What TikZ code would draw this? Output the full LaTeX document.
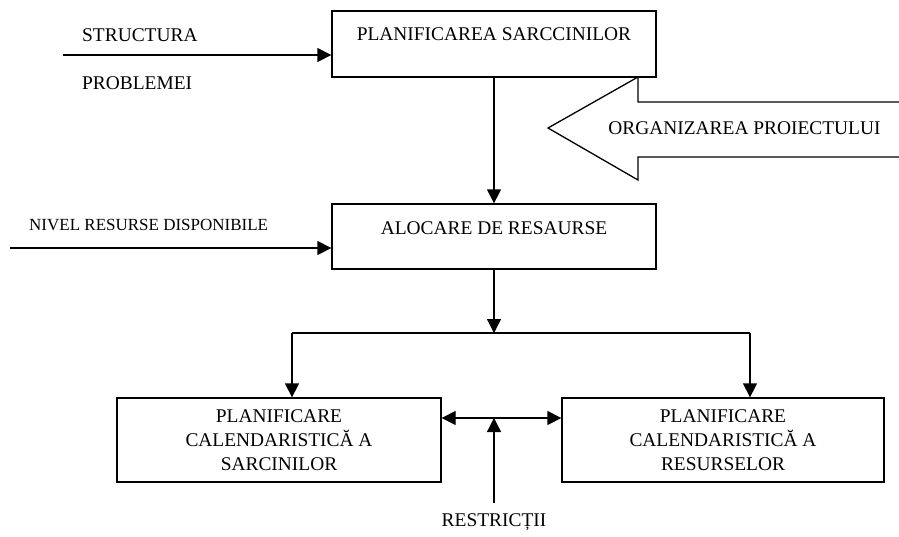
\documentclass[tikz,border=0pt]{standalone}
\usepackage{fontspec}
\setmainfont{Liberation Serif}
\usetikzlibrary{arrows.meta}
\begin{document}
\begin{tikzpicture}[x=1pt,y=-1pt,
  every node/.style={font=\fontsize{19.4}{24}\selectfont, inner sep=0pt},
  box/.style={draw, line width=1.3pt, rectangle},
  lbl/.style={},
  small/.style={font=\fontsize{17}{20}\selectfont},
  tip/.style={Triangle[length=14pt,width=14pt]},
  conn/.style={line width=1.3pt, -{Triangle[length=14pt,width=14pt]}},
  dbl/.style={line width=1.3pt, {Triangle[length=14pt,width=14pt]}-{Triangle[length=14pt,width=14pt]}},
  ]
\useasboundingbox (0,0) rectangle (899,536);

% process boxes
\node[box, minimum width=324pt, minimum height=66pt] (plan) at (494,44) {};
\node[lbl] (plantxt) at (494,34) {PLANIFICAREA SARCCINILOR};

\node[box, minimum width=324pt, minimum height=65pt] (aloc) at (494,236.5) {};
\node[lbl] (aloctxt) at (494,228) {ALOCARE DE RESAURSE};

\node[box, minimum width=324pt, minimum height=84pt, align=center] (sarc) at (279,440)
  {PLANIFICARE\\CALENDARISTICĂ A\\SARCINILOR};
\node[box, minimum width=322pt, minimum height=84pt, align=center] (res) at (723,440)
  {PLANIFICARE\\CALENDARISTICĂ A\\RESURSELOR};

% inputs on the left
\coordinate (s0) at (63,55);
\node[lbl, anchor=west] (st1) at (82,35) {STRUCTURA};
\node[lbl, anchor=west] (st2) at (82,83) {PROBLEMEI};
\draw[conn] (s0) -- (s0 -| plan.west);

\coordinate (n0) at (10,248);
\node[lbl, small, anchor=west] (niv) at (29,225) {NIVEL RESURSE DISPONIBILE};
\draw[conn] (n0) -- (n0 -| aloc.west);

% main flow
\draw[conn] (plan.south) -- (aloc.north);
\coordinate (split) at (494,333);
\coordinate (sl) at (292,333);
\coordinate (sr) at (750,333);
\draw[conn] (aloc.south) -- (split);
\draw[line width=1.3pt] (sl) -- (sr);
\draw[conn] (sl) -- (sl |- sarc.north);
\draw[conn] (sr) -- (sr |- res.north);

% link between the two schedules and the constraints
\coordinate (mid) at (494,418);
\draw[dbl] (mid -| sarc.east) -- (mid -| res.west);
\node[lbl] (restr) at (494,522) {RESTRICȚII};
\draw[conn] ([yshift=10pt]restr.north) -- (mid);

% hollow block arrow
\draw[line width=1.3pt, line join=miter]
  (905,102) -- (638,102) -- (638,77) -- (548,128) -- (638,180) -- (638,157) -- (905,157);
\node[lbl] (org) at (744.5,128) {ORGANIZAREA PROIECTULUI};
\end{tikzpicture}
\end{document}
